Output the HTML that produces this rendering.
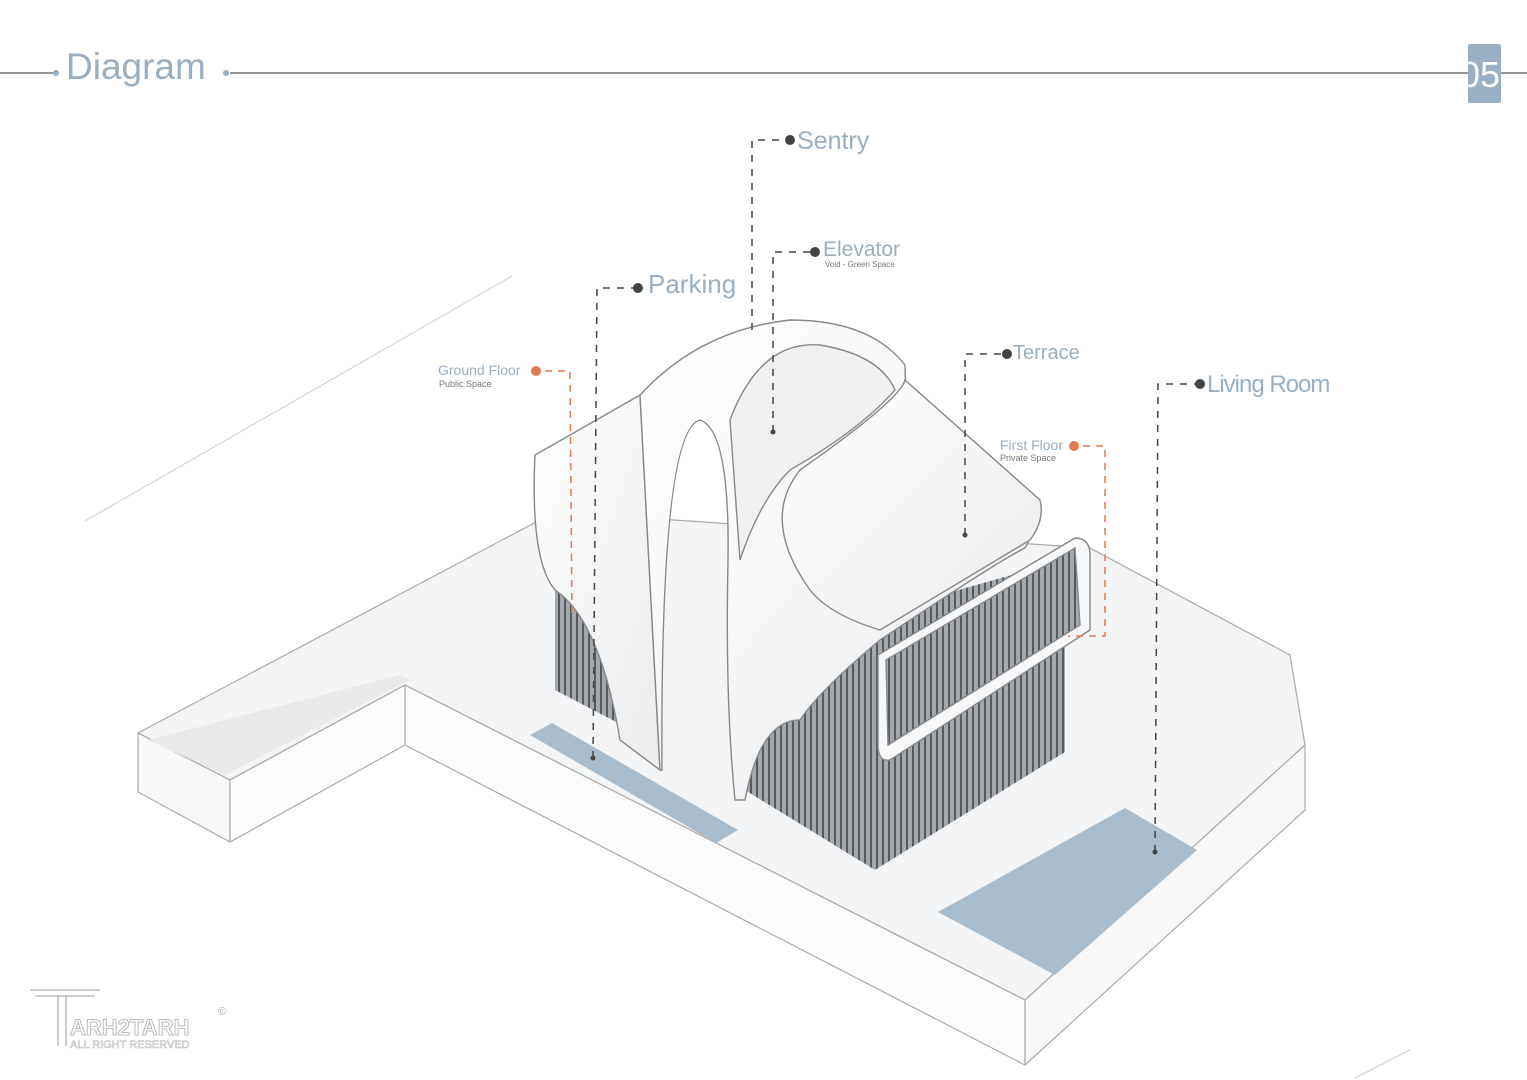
<!DOCTYPE html>
<html><head><meta charset="utf-8"><style>
html,body{margin:0;padding:0;background:#fff}
svg{display:block}
text{font-family:"Liberation Sans",sans-serif}
</style></head><body>
<svg width="1527" height="1080" viewBox="0 0 1527 1080" xmlns="http://www.w3.org/2000/svg">
<defs>
<pattern id="gl" width="6" height="10" patternUnits="userSpaceOnUse">
<rect width="6" height="10" fill="#a4a8ad"/><rect width="2" height="10" fill="#555a60"/>
</pattern>
<linearGradient id="sh" x1="0" y1="0" x2="1" y2="1"><stop offset="0" stop-color="#fff"/><stop offset="1" stop-color="#e9ebed"/></linearGradient>
<clipPath id="c05"><rect x="1468" y="44" width="33" height="59" rx="2"/></clipPath>
</defs>
<!-- header -->
<line x1="0" y1="73" x2="55" y2="73" stroke="#555" stroke-width="1.3"/>
<circle cx="56" cy="73" r="3" fill="#9aafc2"/>
<text x="66" y="79" font-size="37" fill="#9aafc2">Diagram</text>
<circle cx="226" cy="73" r="3" fill="#9aafc2"/>
<line x1="230" y1="73" x2="1527" y2="73" stroke="#555" stroke-width="1.3"/>
<rect x="1468" y="44" width="33" height="59" rx="2" fill="#9aafc2"/>
<text x="1460" y="87" font-size="36" fill="#fff" clip-path="url(#c05)">05</text>
<line x1="85" y1="521" x2="512" y2="276" stroke="#ccc"/>
<line x1="1355" y1="1078" x2="1410" y2="1050" stroke="#ccc"/>
<!-- platform -->
<g stroke="#aaa" stroke-width="1.2" stroke-linejoin="round">
<polygon points="138,733 555,512 1090,548 1290,655 1305,745 1025,1000 405,685 230,780" fill="#f3f4f5"/>
<polygon points="138,733 230,780 230,842 138,792" fill="#f7f7f7"/>
<polygon points="230,780 405,685 405,745 230,842" fill="#fcfcfc"/>
<polygon points="405,685 1025,1000 1025,1065 405,745" fill="#fcfcfc"/>
<polygon points="1025,1000 1305,745 1305,810 1025,1065" fill="#f7f7f7"/>
<polygon points="148,740 400,675 410,680 225,775" fill="#e8e9eb" stroke="none"/>
</g>
<!-- blue panels -->
<polygon points="530,735 552,723 738,830 716,843" fill="#a9bccb"/>
<polygon points="938,912 1125,808 1197,850 1055,975" fill="#a9bccb"/>
<!-- glazing -->
<polygon points="555,575 660,620 660,745 555,690" fill="url(#gl)"/>
<polygon points="745,790 875,870 1065,752 1065,560 745,650" fill="url(#gl)"/>
<!-- shell forms -->
<g stroke="#888" stroke-width="1.4" fill="url(#sh)">
<path d="M535,455 L640,395 L660,770 L620,740 Q600,620 555,590 Q530,560 535,455 Z"/>
<path d="M640,395 Q700,330 790,320 Q870,320 905,365 Q905,420 930,450 L1040,520 L1025,548 Q1000,560 880,640 Q820,690 800,720 Q760,720 745,800 L735,800 Q725,700 728,560 Q730,430 700,420 Q660,430 662,770 L660,770 Z"/>
<path d="M905,380 L1040,500 Q1045,520 1030,540 L880,630 Q830,615 810,590 Q760,520 800,470 Q900,400 905,380 Z"/>
<path d="M878,655 L1075,538 Q1090,538 1090,555 L1090,630 L890,760 Q878,762 878,745 Z" fill="#f6f7f8"/>
<path d="M886,660 L1075,548 L1080,625 L888,745 Z" fill="url(#gl)"/>
<path d="M730,420 Q760,340 820,345 Q880,355 895,390 Q860,430 790,470 Q760,500 740,560 Z" fill="#eef0f2"/>
</g>
<!-- leaders -->
<g stroke="#444" stroke-width="1.5" stroke-dasharray="7,7" fill="none">
<polyline points="752,330 752,140 790,140"/>
<polyline points="773,432 773,252 815,252"/>
<polyline points="593,758 597,288 638,288"/>
<polyline points="965,535 965,354 1007,354"/>
<polyline points="1155,852 1158,384 1200,384"/>
</g>
<g stroke="#e07a50" stroke-width="1.5" stroke-dasharray="7,6" fill="none">
<polyline points="545,371 570,371 572,620"/>
<polyline points="1083,446 1105,446 1105,636 1068,636"/>
</g>
<g fill="#444">
<circle cx="790" cy="140" r="5"/><circle cx="815" cy="252" r="5"/><circle cx="638" cy="288" r="5"/>
<circle cx="1007" cy="354" r="5"/><circle cx="1200" cy="384" r="5"/>
<circle cx="593" cy="758" r="2.5"/><circle cx="773" cy="432" r="2.5"/><circle cx="965" cy="535" r="2.5"/><circle cx="1155" cy="852" r="2.5"/>
</g>
<circle cx="536" cy="371" r="5" fill="#e07a50"/><circle cx="1074" cy="446" r="5" fill="#e07a50"/>
<g fill="#9aafc2">
<text x="797" y="149" font-size="25">Sentry</text>
<text x="823" y="256" font-size="21">Elevator</text>
<text x="825" y="267" font-size="8" fill="#777">Void - Green Space</text>
<text x="648" y="293" font-size="26">Parking</text>
<text x="1013" y="359" font-size="20">Terrace</text>
<text x="1207" y="392" font-size="24" letter-spacing="-1">Living Room</text>
<text x="438" y="375" font-size="14">Ground Floor</text>
<text x="439" y="387" font-size="9" fill="#777">Public Space</text>
<text x="1000" y="450" font-size="14">First Floor</text>
<text x="1000" y="461" font-size="9" fill="#777">Private Space</text>
</g>
<!-- logo -->
<g fill="none" stroke="#bbb" stroke-width="1.5">
<line x1="30" y1="990" x2="100" y2="990"/><line x1="35" y1="996" x2="95" y2="996"/>
<line x1="58" y1="996" x2="58" y2="1046"/><line x1="66" y1="996" x2="66" y2="1046"/>
</g>
<text x="70" y="1035" font-size="22" font-weight="bold" fill="none" stroke="#bbb">ARH2TARH</text>
<text x="70" y="1048" font-size="11" fill="none" stroke="#bbb" stroke-width="0.6">ALL RIGHT RESERVED</text>
<text x="218" y="1015" font-size="11" fill="#aaa">©</text>
</svg>
</body></html>
